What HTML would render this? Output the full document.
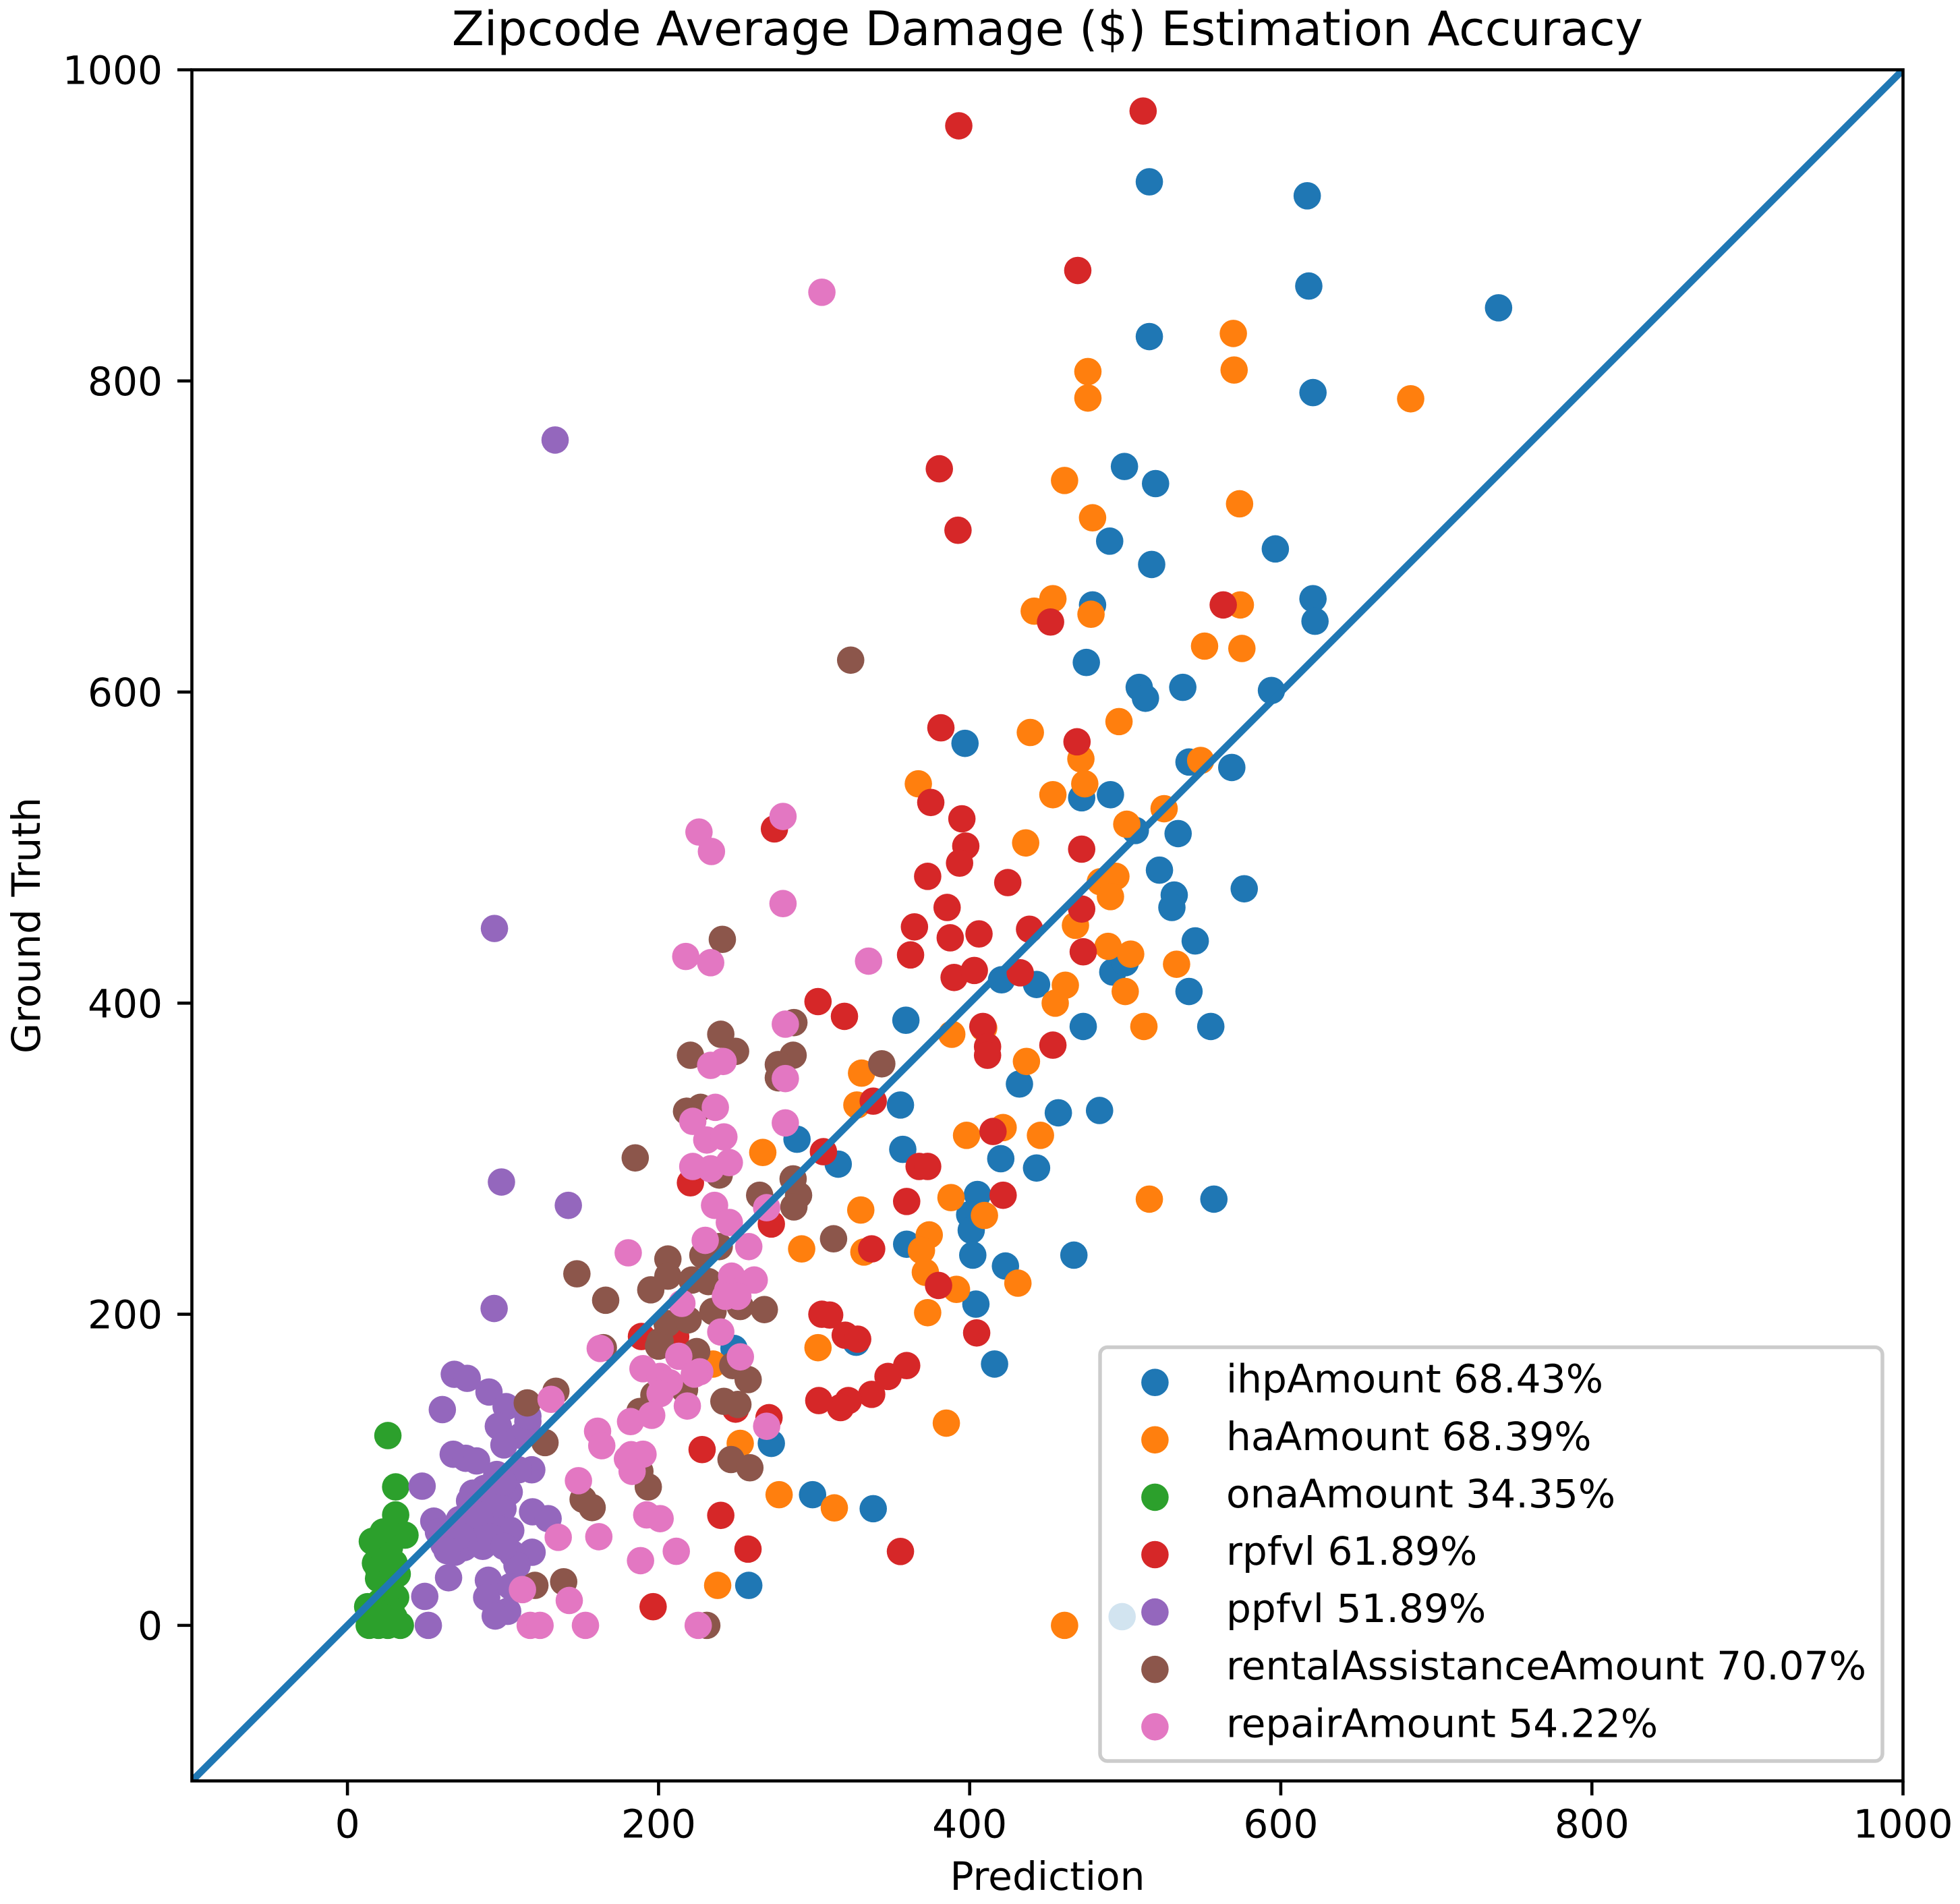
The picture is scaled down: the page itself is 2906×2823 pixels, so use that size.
<!DOCTYPE html>
<html lang="en">
<head>
<meta charset="utf-8">
<title>Zipcode Average Damage ($) Estimation Accuracy</title>
<style>
html,body{margin:0;padding:0;background:#fff;}
svg{display:block;}
text{font-family:"DejaVu Sans","Liberation Sans",sans-serif;fill:#000;}
</style>
</head>
<body>
<svg id="chart" xmlns="http://www.w3.org/2000/svg" width="2906" height="2823" viewBox="0 0 2906 2823">
  <rect x="0" y="0" width="2906" height="2823" fill="#fff"/>
  <text x="1553" y="67" font-size="70" text-anchor="middle">Zipcode Average Damage ($) Estimation Accuracy</text>
  <text x="1553" y="2802" font-size="58.2" text-anchor="middle">Prediction</text>
  <text x="0" y="0" font-size="58.2" text-anchor="middle" transform="translate(59 1372) rotate(-90)">Ground Truth</text>
  <defs><clipPath id="plot-clip"><rect x="284.5" y="103.5" width="2537" height="2537"/></clipPath></defs>
  <g id="marks" clip-path="url(#plot-clip)"></g>
  <g id="frame"></g>
  <g id="legend"></g>
</svg>
<script>
const tickValues = [0, 200, 400, 600, 800, 1000];
const axisMin = [-100];
const axisMax = [1000];
const lineEnds = [-100, 1000];

const ihpPrediction = [515.5,617,618,740,515.5,620.7,499.5,519.5,490,517,
596.5,620.7,622,479,475,509,513,537,594,397,
541,568.5,472,490.5,506.5,534,522,576.5,531.5,530,
545,492,500,541,555,473,420.5,443,359,432,
457,483.5,355.5,289,315.5,357,420,443,405,400,
401,557,359.5,402,423,467,404,416,327,248.5,
272.5,299,338,258,498];
const ihpTruth = [928,919,861,847,828.5,792.5,745,734,697,682,
692,660,645.5,656,619,603,596,603,601,567,
555,551.5,532,534,511,509,485.5,473.5,469.5,461.5,
440,420,426,407.5,385,385,415,412,389,348,
329.5,331,334.5,312.5,296.5,306,300,294,277,264,
254,274,245,238,231,238,206.5,168,182,178,
117,84,75,25.7,5.6];

const haPrediction = [569.5,570,683.5,476,476,461,573.5,479,441.5,453.5,
478,574,551,575,496,439,548.5,471.5,474,453.5,
367,525,501,436,484,494,490.5,468,489,503.5,
533,461.5,455,500,512,409,388.5,436.5,330.5,327.5,
421.5,398,445.5,267,388,515.5,330,409.5,374,369,
332,292,371.5,391.5,431,373,302.5,235,385,252.5,
277.5,313,238,461];
const haTruth = [830.5,807,788.5,806,789,736,721,712,652,660,
650,656,629.5,628,581,574,556,557,541,534,
541,525,515,503,478,481.5,468.5,450,436.5,431.5,
425,411.5,400,407.5,385,384,380,362.5,355,334.5,
320,315,315,304,275,274,267,263.5,251,241,
240,242,227,216,220,201,178.5,168,130,117,
84,75.5,25.7,0];

const onaPrediction = [26,31,31,16,23,37,27,22,18,30,20,32,20,25,28,31,13,21,28,20,14,20,26,34,30,24,17,22,27,25];
const onaTruth = [122,89,71,54,60,58,50,45,40,40,36,33,30,25,22,18,12,15,10,8,0,0,0,0,5,5,3,35,28,42];

const rpfvlPrediction = [511.5,393,469.5,380.5,392.5,452,563,381.5,469,274.5,
375,395,397.5,393.5,472,373,424.5,472,385.5,364.5,
438.5,387.5,406,473,362,390,403,432.5,302.5,319.5,
408.5,411.5,411.5,453.5,338,415,306,220.5,367.5,373,
421.5,359.5,272.5,337,380,305,310,320,328,404.5,
359.5,347.5,337,322,317,303,271,249.5,228,240,
257.5,355.5,196.5,189,211];
const rpfvlTruth = [973.5,964,871,743.5,704,645,656,577,568,512,
529,518.5,501,490,499,481.5,477.5,460.5,461.5,449,
447.5,442,444.5,433,431,416.5,421,419.5,401,391.5,
385,372,366.5,373,337,317.5,304.5,284.5,295,295,
276.5,272.5,258,242,218.5,200,199.5,186.5,184,188,
167,160,148.5,144.5,140,144.5,133.5,139,113,70.7,
49,47.5,12,185.7,185.7];

const ppfvlPrediction = [133.5,94.5,99,142,94.3,68.7,77,91,102,116,
61,97,112,100.6,68,76,83,118.5,48,80.6,
96,104,78.5,88,100,119,129,55.5,105,68.7,
58.5,85,75,69,62,118.7,106,109,65,90.6,
49.7,89.5,103,95,52,105,92,110,72,80,
90,95,85,100,72,64,87,91.7,100.6,116];
const ppfvlTruth = [762,448,285,270,203.7,161.4,158.8,150,140.6,131,
138.7,128,122,116,110,107.4,105.7,100,89.5,85,
97,85.7,80,88,75,73,68.6,67,61,63,
60,58,50,47,52,47,46,38.6,30.6,29,
18.6,18,9,6,0,25,70,100,68,72,
62,78,70,92,58,48,50.8,57,50.7,134.5];

const rentalPrediction = [323.5,241,287,240,249.5,220.5,286.5,277,277,343.5,
218,227,185,239,265,286.5,290,287,312.5,239,
206,147.5,206,195,166,221.5,228.5,232,235,252.5,
268,164.5,205.5,219,235,201,224.5,247.7,257.6,216.7,
197,242,251,188,115.6,134,127,200,246.6,258.7,
188,193.4,151.5,157.3,139,120.5,231];
const rentalTruth = [620.5,441,387.5,380,369,366.5,366.5,360.5,352,361,
330.5,333,300.5,289.5,276.5,287,276.5,269,248.5,243.5,
235.5,226,224.5,215.7,209,222,238,221,201.8,205,
203,178.5,194,196.4,201.8,182.6,176,167,158,151.5,
148,144,142,137.5,143,150.5,117.5,179.5,106.6,101.3,
99,89,81,75.7,28,25.7,0];

const repairPrediction = [305,280,226,234,280,217.5,233.5,335,281.5,241.5,
233.5,281.5,236.5,281.5,222,231,242,222,233.5,245.5,
236,269.5,245.5,230,258,180.5,247,261.5,244.5,251,
243,215,240,162.5,252.6,213,190,201,226.5,223,
207,201,218.5,195.6,182,269.5,130.9,160.8,163.5,182.4,
190,180,183,148.5,192.4,201,135.5,161.6,211.4,188.4,
142.6,112.5,117.5,123.8,153,225.5];
const repairTruth = [857,520,510,497.5,464,430,426,427,386.5,362.5,
360,351.5,333,323,324,312,314,295,293.5,297.5,
270,268.5,259,247.5,243.5,239.5,224.5,222,215.5,211.5,
211.5,207,188.6,178,172.6,173,165,160,163,161.5,
156,149,141,135,131,128,145.3,124.8,115.5,109.7,
110,107,99,93,71,68.6,56.6,57,47.6,41.6,
16,23,0,0,0,0];

const seriesLabels = ["ihpAmount 68.43%","haAmount 68.39%","onaAmount 34.35%","rpfvl 61.89%","ppfvl 51.89%","rentalAssistanceAmount 70.07%","repairAmount 54.22%"];
const seriesSlugs = ["ihp-amount","ha-amount","ona-amount","rpfvl","ppfvl","rental-assistance-amount","repair-amount"];
const seriesColors = ["#1f77b4","#ff7f0e","#2ca02c","#d62728","#9467bd","#8c564b","#e377c2"];
const seriesX = [ihpPrediction, haPrediction, onaPrediction, rpfvlPrediction, ppfvlPrediction, rentalPrediction, repairPrediction];
const seriesY = [ihpTruth, haTruth, onaTruth, rpfvlTruth, ppfvlTruth, rentalTruth, repairTruth];

const NS = "http://www.w3.org/2000/svg";
const PLOT_LEFT = 284.5, PLOT_RIGHT = 2821.5, PLOT_TOP = 103.5, PLOT_BOTTOM = 2640.5;
const MARKER_R = 20.3;

function xScale(v) {
  return PLOT_LEFT + (v - axisMin[0]) / (axisMax[0] - axisMin[0]) * (PLOT_RIGHT - PLOT_LEFT);
}
function yScale(v) {
  return PLOT_BOTTOM - (v - axisMin[0]) / (axisMax[0] - axisMin[0]) * (PLOT_BOTTOM - PLOT_TOP);
}
function make(tag, props, parent) {
  const el = document.createElementNS(NS, tag);
  for (const k in props) el.setAttribute(k, props[k]);
  parent.appendChild(el);
  return el;
}

const marks = document.getElementById("marks");
const frame = document.getElementById("frame");
const legend = document.getElementById("legend");

seriesLabels.forEach(function (label, s) {
  const group = make("g", { fill: seriesColors[s] }, marks);
  
  
  const xs = seriesX[s], ys = seriesY[s];
  const n = Math.min(xs.length, ys.length);
  for (let i = 0; i < n; i++) {
    const dot = make("circle", { cx: xScale(xs[i]), cy: yScale(ys[i]), r: MARKER_R }, group);
    
    
  }
});

const diagonal = make("line", {
  x1: xScale(lineEnds[0]), y1: yScale(lineEnds[0]),
  x2: xScale(lineEnds[1]), y2: yScale(lineEnds[1]),
  stroke: "#1f77b4", "stroke-width": 10.5, "stroke-linecap": "square"
}, marks);



const spines = make("rect", {
  x: PLOT_LEFT, y: PLOT_TOP, width: PLOT_RIGHT - PLOT_LEFT, height: PLOT_BOTTOM - PLOT_TOP,
  fill: "none", stroke: "#000", "stroke-width": 4.6
}, frame);



tickValues.forEach(function (t) {
  const px = xScale(t);
  const xt = make("line", { x1: px, x2: px, y1: PLOT_BOTTOM, y2: PLOT_BOTTOM + 21.5, stroke: "#000", "stroke-width": 4.6 }, frame);
  
  
  const xl = make("text", { x: px, y: 2724.5, "font-size": 58.2, "text-anchor": "middle" }, frame);
  
  
  xl.textContent = String(t);

  const py = yScale(t);
  const yt = make("line", { x1: PLOT_LEFT - 21.5, x2: PLOT_LEFT, y1: py, y2: py, stroke: "#000", "stroke-width": 4.6 }, frame);
  
  
  const yl = make("text", { x: 241, y: py + 21, "font-size": 58.2, "text-anchor": "end" }, frame);
  
  
  yl.textContent = String(t);
});

const legendBox = make("rect", {
  x: 1631, y: 1997.5, width: 1160, height: 613.5, rx: 11, ry: 11,
  fill: "#fff", "fill-opacity": 0.8, stroke: "#000", "stroke-opacity": 0.2, "stroke-width": 5.5
}, legend);



seriesLabels.forEach(function (label, s) {
  const rowY = 2049.7 + s * 85.1;
  const key = make("circle", { cx: 1712.4, cy: rowY, r: MARKER_R, fill: seriesColors[s] }, legend);
  
  
  const txt = make("text", { x: 1818, y: rowY + 15, "font-size": 58.2 }, legend);
  
  
  txt.textContent = label;
});
</script>
</body>
</html>
